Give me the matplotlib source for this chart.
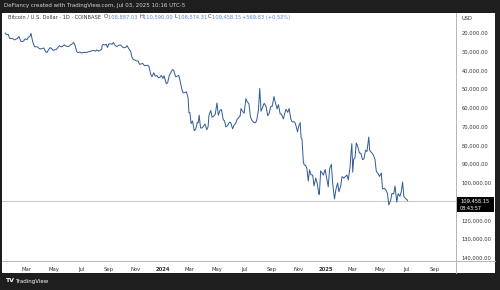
import matplotlib
matplotlib.use('Agg')
import matplotlib.pyplot as plt
from matplotlib.lines import Line2D
from matplotlib.patches import Rectangle
import pandas as pd

dates = [
    '2023-01-11', '2023-01-14', '2023-01-18', '2023-01-21', '2023-01-25', '2023-01-28',
    '2023-02-01', '2023-02-04', '2023-02-08', '2023-02-11', '2023-02-15', '2023-02-18',
    '2023-02-22', '2023-02-25', '2023-03-01', '2023-03-04', '2023-03-08', '2023-03-10',
    '2023-03-14', '2023-03-18', '2023-03-22', '2023-03-25', '2023-03-29', '2023-04-01',
    '2023-04-05', '2023-04-08', '2023-04-12', '2023-04-15', '2023-04-19', '2023-04-22',
    '2023-04-26', '2023-04-29', '2023-05-03', '2023-05-06', '2023-05-10', '2023-05-13',
    '2023-05-17', '2023-05-20', '2023-05-24', '2023-05-27', '2023-05-31', '2023-06-03',
    '2023-06-07', '2023-06-10', '2023-06-14', '2023-06-17', '2023-06-21', '2023-06-24',
    '2023-06-28', '2023-07-01', '2023-07-05', '2023-07-08', '2023-07-12', '2023-07-14',
    '2023-07-19', '2023-07-22', '2023-07-26', '2023-07-29', '2023-08-02', '2023-08-05',
    '2023-08-09', '2023-08-12', '2023-08-16', '2023-08-17', '2023-08-19', '2023-08-23',
    '2023-08-26', '2023-08-29', '2023-09-01', '2023-09-05', '2023-09-09', '2023-09-11',
    '2023-09-15', '2023-09-19', '2023-09-23', '2023-09-27', '2023-09-30', '2023-10-02',
    '2023-10-06', '2023-10-09', '2023-10-12', '2023-10-16', '2023-10-20', '2023-10-23',
    '2023-10-26', '2023-10-30', '2023-11-02', '2023-11-06', '2023-11-09', '2023-11-13',
    '2023-11-16', '2023-11-20', '2023-11-23', '2023-11-27', '2023-11-30', '2023-12-04',
    '2023-12-07', '2023-12-11', '2023-12-14', '2023-12-18', '2023-12-21', '2023-12-25',
    '2023-12-28', '2024-01-01', '2024-01-03', '2024-01-08', '2024-01-11', '2024-01-15',
    '2024-01-18', '2024-01-22', '2024-01-25', '2024-01-29', '2024-02-01', '2024-02-05',
    '2024-02-08', '2024-02-12', '2024-02-15', '2024-02-19', '2024-02-22', '2024-02-26',
    '2024-02-28', '2024-03-01', '2024-03-04', '2024-03-07', '2024-03-11', '2024-03-14',
    '2024-03-18', '2024-03-20', '2024-03-22', '2024-03-25', '2024-03-28', '2024-04-01',
    '2024-04-04', '2024-04-08', '2024-04-11', '2024-04-13', '2024-04-17', '2024-04-20',
    '2024-04-24', '2024-04-27', '2024-05-01', '2024-05-04', '2024-05-08', '2024-05-11',
    '2024-05-15', '2024-05-18', '2024-05-21', '2024-05-25', '2024-05-29', '2024-06-01',
    '2024-06-05', '2024-06-08', '2024-06-12', '2024-06-15', '2024-06-19', '2024-06-22',
    '2024-06-24', '2024-06-27', '2024-07-01', '2024-07-05', '2024-07-08', '2024-07-12',
    '2024-07-15', '2024-07-19', '2024-07-22', '2024-07-26', '2024-07-29', '2024-08-02',
    '2024-08-05', '2024-08-08', '2024-08-12', '2024-08-15', '2024-08-19', '2024-08-23',
    '2024-08-26', '2024-08-30', '2024-09-02', '2024-09-06', '2024-09-09', '2024-09-13',
    '2024-09-16', '2024-09-20', '2024-09-23', '2024-09-27', '2024-09-30', '2024-10-03',
    '2024-10-07', '2024-10-10', '2024-10-14', '2024-10-17', '2024-10-21', '2024-10-24',
    '2024-10-29', '2024-10-31', '2024-11-04', '2024-11-06', '2024-11-08', '2024-11-11',
    '2024-11-13', '2024-11-16', '2024-11-19', '2024-11-22', '2024-11-25', '2024-11-28',
    '2024-12-02', '2024-12-05', '2024-12-09', '2024-12-12', '2024-12-16', '2024-12-17',
    '2024-12-20', '2024-12-23', '2024-12-26', '2024-12-30', '2025-01-02', '2025-01-06',
    '2025-01-09', '2025-01-13', '2025-01-16', '2025-01-20', '2025-01-23', '2025-01-27',
    '2025-01-30', '2025-02-03', '2025-02-06', '2025-02-10', '2025-02-13', '2025-02-17',
    '2025-02-20', '2025-02-24', '2025-02-26', '2025-02-28', '2025-03-02', '2025-03-04',
    '2025-03-07', '2025-03-10', '2025-03-13', '2025-03-17', '2025-03-20', '2025-03-24',
    '2025-03-27', '2025-03-31', '2025-04-03', '2025-04-07', '2025-04-09', '2025-04-13',
    '2025-04-17', '2025-04-21', '2025-04-24', '2025-04-28', '2025-05-01', '2025-05-05',
    '2025-05-08', '2025-05-12', '2025-05-15', '2025-05-19', '2025-05-22', '2025-05-26',
    '2025-05-29', '2025-06-02', '2025-06-05', '2025-06-09', '2025-06-12', '2025-06-16',
    '2025-06-19', '2025-06-22', '2025-06-25', '2025-06-29', '2025-07-02', '2025-07-03',
]
closes = [
    20000, 20900, 20700, 22800, 23000, 23000,
    23700, 23300, 22900, 21800, 24300, 24600,
    24200, 23100, 23600, 22400, 21700, 20200,
    24700, 27400, 27300, 27500, 28300, 28500,
    28200, 28000, 30000, 30400, 28800, 27800,
    28400, 29300, 28900, 28800, 27600, 26800,
    27400, 27100, 26300, 26900, 27200, 27200,
    26300, 25900, 25100, 26500, 30000, 30500,
    30100, 30600, 30500, 30300, 30400, 30300,
    29900, 29800, 29300, 29300, 29700, 29000,
    29600, 29400, 28700, 26600, 26100, 26400,
    26000, 27700, 25800, 25800, 25900, 25100,
    26600, 27200, 26600, 26400, 27000, 27500,
    27900, 27600, 26700, 28500, 29700, 33000,
    34100, 34500, 34900, 35000, 36700, 36500,
    36200, 37400, 37300, 37200, 37700, 41900,
    43300, 41200, 43000, 42700, 43800, 43600,
    42600, 44200, 42800, 47000, 46600, 42500,
    41300, 39500, 40000, 43300, 43100, 42600,
    45300, 50000, 51900, 51800, 51300, 54500,
    62500, 62400, 68300, 66900, 72100, 71400,
    67600, 67900, 63800, 70600, 70700, 69700,
    68500, 71600, 70000, 63900, 61300, 64900,
    64300, 63400, 57300, 63900, 61200, 60800,
    66200, 66900, 70100, 69300, 67600, 67800,
    71100, 69300, 68200, 66200, 65000, 64200,
    60300, 61600, 62800, 55000, 56700, 57900,
    64700, 66700, 67600, 67900, 66800, 61400,
    49500, 61700, 59300, 57500, 59000, 64100,
    62900, 59100, 59100, 53900, 57000, 60500,
    58200, 63200, 63300, 65800, 63300, 60700,
    62300, 60300, 66000, 67400, 67300, 68200,
    72700, 70200, 67800, 75900, 76500, 88700,
    90400, 90600, 92300, 98900, 93000, 95600,
    95800, 101500, 97400, 100000, 106100, 106000,
    93500, 94700, 95800, 92800, 96900, 102000,
    92500, 90000, 100500, 108500, 103700, 100000,
    104700, 101400, 96600, 97400, 96600, 95800,
    98300, 91500, 84300, 79000, 94200, 87300,
    86800, 78600, 80400, 84000, 84100, 87500,
    87200, 82500, 83200, 75500, 82600, 83700,
    84900, 87500, 93800, 95000, 96500, 94700,
    103200, 102800, 103500, 105600, 111700, 109400,
    105600, 105800, 101600, 110200, 105700, 107100,
    104600, 99500, 107300, 108400, 108800, 109458,
]
y_ticks = [20000, 30000, 40000, 50000, 60000, 70000, 80000, 90000, 100000, 120000, 130000, 140000]
x_tick_dates = ['2023-03-01', '2023-05-01', '2023-07-01', '2023-09-01', '2023-11-01', '2024-01-01',
                '2024-03-01', '2024-05-01', '2024-07-01', '2024-09-01', '2024-11-01', '2025-01-01',
                '2025-03-01', '2025-05-01', '2025-07-01', '2025-09-01']
x_tick_labels = ['Mar', 'May', 'Jul', 'Sep', 'Nov', '2024', 'Mar', 'May', 'Jul', 'Sep', 'Nov', '2025',
                 'Mar', 'May', 'Jul', 'Sep']
last_price = 109458.15
legend_parts = [('Bitcoin / U.S. Dollar \u00b7 1D \u00b7 COINBASE  ', '#333333'),
                ('O', '#333333'), ('108,887.03 ', '#5b86c8'),
                ('H', '#333333'), ('110,590.00 ', '#5b86c8'),
                ('L', '#333333'), ('108,574.31 ', '#5b86c8'),
                ('C', '#333333'), ('109,458.15 ', '#5b86c8'),
                ('+569.83 (+0.52%)', '#5b86c8')]

W, H = 500, 290
def fx(px):
    return px / W
def fy(py):
    return 1 - py / H

fig = plt.figure(figsize=(5, 2.9), dpi=100, facecolor='#1e1e1e')

# fondo blanco del panel
panel = fig.add_axes([fx(2), fy(273), fx(495) - fx(2), fy(12.5) - fy(273)])
panel.set_facecolor('white')
panel.set_xticks([])
panel.set_yticks([])
for s in panel.spines.values():
    s.set_visible(False)

ax = fig.add_axes([fx(2), fy(261), fx(456) - fx(2), fy(13) - fy(261)])
ax.patch.set_alpha(0)
for s in ax.spines.values():
    s.set_visible(False)

ax.plot(pd.to_datetime(dates), closes, color='#2f5a96', lw=0.7)
ax.axhline(last_price, color='#cccccc', lw=0.8, zorder=0)

# escala invertida como en TradingView
ax.set_ylim(141600, 9333)
ax.set_xlim(pd.Timestamp('2023-01-04'), pd.Timestamp('2025-10-20'))

ax.yaxis.tick_right()
ax.set_yticks(y_ticks)
ax.set_yticklabels([f'{v:,.2f}' for v in y_ticks])
ax.tick_params(axis='y', length=0, pad=4, labelsize=3.7, labelcolor='#333333')

ax.set_xticks(pd.to_datetime(x_tick_dates))
ax.set_xticklabels(x_tick_labels)
ax.tick_params(axis='x', length=0, pad=4, labelsize=3.8, labelcolor='#333333')
for lbl in ax.get_xticklabels():
    if lbl.get_text().isdigit():
        lbl.set_fontweight('bold')

# separadores de escalas
fig.add_artist(Line2D([fx(456), fx(456)], [fy(12.5), fy(273)], color='#b5b5b5', lw=0.7))
fig.add_artist(Line2D([fx(2), fx(495)], [fy(261), fy(261)], color='#b5b5b5', lw=0.7))

fig.text(fx(462), fy(18), 'USD', fontsize=3.7, color='#333333', va='center')

# etiqueta del último precio
fig.add_artist(Rectangle((fx(457), fy(212)), fx(494) - fx(457), fy(197) - fy(212),
                         transform=fig.transFigure, facecolor='black', edgecolor='none'))
fig.text(fx(460), fy(201.5), f'{last_price:,.2f}', fontsize=3.7, color='white', va='center')
fig.text(fx(460), fy(208), '08:43:57', fontsize=3.5, color='white', va='center')

# cabecera
fig.text(fx(4), fy(6), 'DeFiancy created with TradingView.com, Jul 03, 2025 10:16 UTC-5',
         fontsize=4.0, color='#d8d8d8', va='center')

prev = ax.annotate(legend_parts[0][0], xy=(fx(8), fy(17)), xycoords='figure fraction',
                   fontsize=3.7, color=legend_parts[0][1], va='center', annotation_clip=False)
for txt, col in legend_parts[1:]:
    prev = ax.annotate(txt, xy=(1, 0.5), xycoords=prev, fontsize=3.7, color=col, va='center',
                       annotation_clip=False)

# pie
fig.text(fx(5), fy(281), 'TV', fontsize=4.5, color='white', fontweight='bold', va='center')
fig.text(fx(15), fy(281), 'TradingView', fontsize=4, color='white', va='center')

fig.savefig('out.png', dpi=100, facecolor=fig.get_facecolor())
